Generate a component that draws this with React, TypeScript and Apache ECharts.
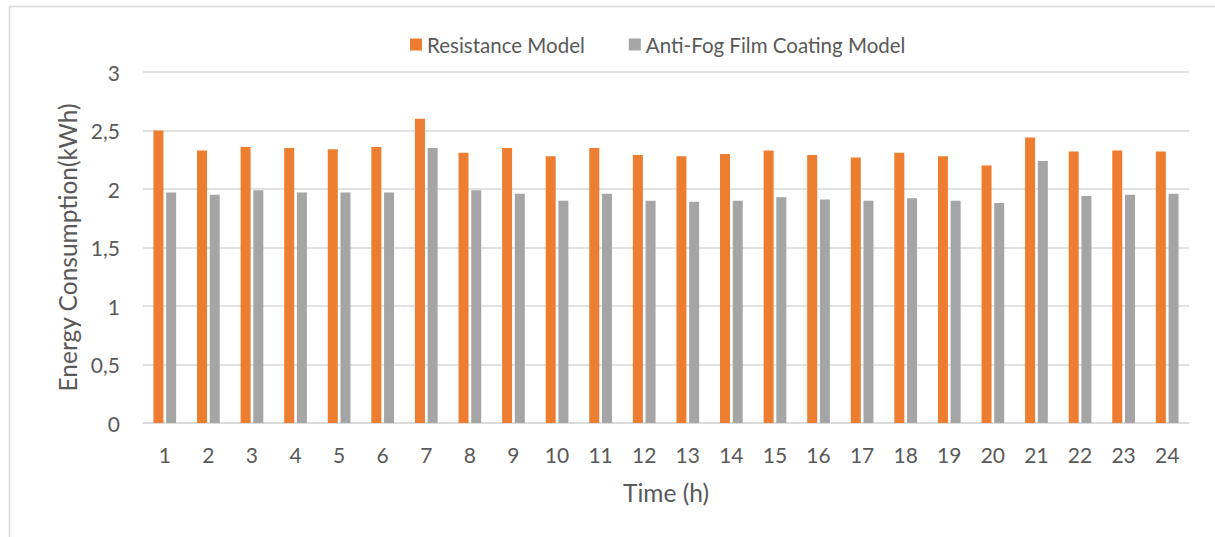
import React, { useEffect, useRef } from "react";
import * as echarts from "echarts";

// Hourly energy consumption of the two heating models
const hours = ["1","2","3","4","5","6","7","8","9","10","11","12","13","14","15","16","17","18","19","20","21","22","23","24"];
const resistanceModel = [2.5, 2.33, 2.36, 2.35, 2.34, 2.36, 2.6, 2.31, 2.35, 2.28, 2.35, 2.29, 2.28, 2.3, 2.33, 2.29, 2.27, 2.31, 2.28, 2.2, 2.44, 2.32, 2.33, 2.32];
const antiFogModel = [1.97, 1.95, 1.99, 1.97, 1.97, 1.97, 2.35, 1.99, 1.96, 1.9, 1.96, 1.9, 1.89, 1.9, 1.93, 1.91, 1.9, 1.92, 1.9, 1.88, 2.24, 1.94, 1.95, 1.96];
const yTicks = [0, 0.5, 1, 1.5, 2, 2.5, 3];

const FONT = "Lato";
const TEXT = "#595959";
const GRID = "#d9d9d9";

export default function App() {
  const ref = useRef<HTMLDivElement>(null);

  useEffect(() => {
    if (!ref.current) return;
    const chart = echarts.init(ref.current, null, { renderer: "svg" });
    const fmt = (v: number) => String(v).replace(".", ",");
    chart.setOption({
      animation: false,
      backgroundColor: "#ffffff",
      textStyle: { fontFamily: FONT },
      graphic: [
        {
          type: "rect",
          shape: { x: 9.5, y: 6.5, width: 1230, height: 560 },
          style: { fill: "none", stroke: GRID, lineWidth: 1.5 },
          silent: true,
        },
      ],
      legend: {
        left: 405,
        top: 29,
        itemWidth: 12,
        itemHeight: 12,
        itemGap: 44,
        icon: "rect",
        textStyle: { fontFamily: FONT, fontSize: 20.5, color: TEXT },
        data: ["Resistance Model", "Anti-Fog Film Coating Model"],
      },
      grid: { left: 143, right: 26, top: 72, height: 351, containLabel: false },
      xAxis: {
        type: "category",
        data: hours,
        name: "Time (h)",
        nameLocation: "middle",
        nameGap: 57,
        nameTextStyle: { fontFamily: FONT, fontSize: 24.5, color: TEXT },
        axisLine: { lineStyle: { color: GRID, width: 1.5 } },
        axisTick: { show: false },
        axisLabel: { fontFamily: FONT, fontSize: 21, color: TEXT, margin: 21 },
      },
      yAxis: {
        type: "value",
        min: yTicks[0],
        max: yTicks[yTicks.length - 1],
        interval: 0.5,
        name: "Energy Consumption(kWh)",
        nameLocation: "middle",
        nameGap: 63,
        nameRotate: 90,
        nameTextStyle: { fontFamily: FONT, fontSize: 24.5, color: TEXT },
        axisLine: { show: false },
        axisTick: { show: false },
        splitLine: { lineStyle: { color: GRID, width: 1.5 } },
        axisLabel: { fontFamily: FONT, fontSize: 21, color: TEXT, margin: 23, formatter: fmt },
      },
      series: [
        {
          name: "Resistance Model",
          type: "bar",
          data: resistanceModel,
          barWidth: 10,
          barGap: "27%",
          itemStyle: { color: "#ed7d31" },
        },
        {
          name: "Anti-Fog Film Coating Model",
          type: "bar",
          data: antiFogModel,
          barWidth: 10,
          itemStyle: { color: "#a5a5a5" },
        },
      ],
    });
    return () => chart.dispose();
  }, []);

  return (
    <div
      ref={ref}
      style={{ position: "fixed", left: 0, top: 0, width: 1215, height: 537, background: "#fff" }}
    />
  );
}
